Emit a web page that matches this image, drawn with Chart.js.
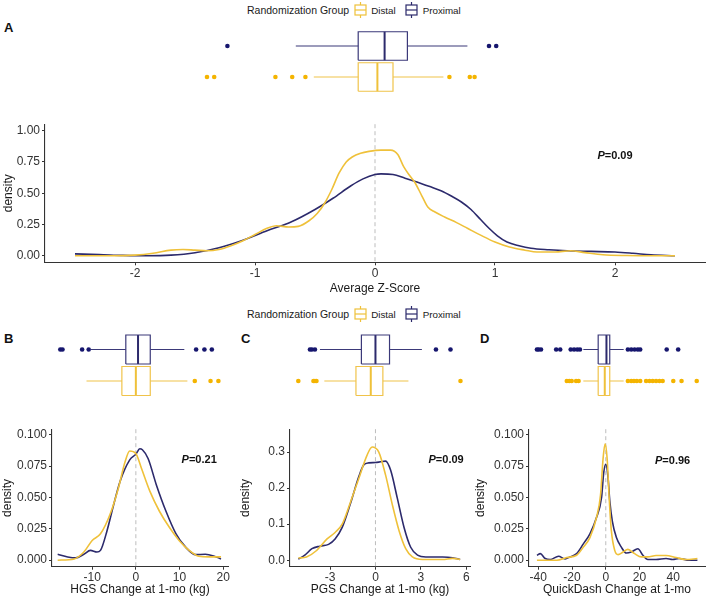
<!DOCTYPE html>
<html><head><meta charset="utf-8">
<script src="https://cdn.jsdelivr.net/npm/chart.js@4.4.1/dist/chart.umd.min.js"></script>
<style>
body{margin:0;background:#fff;width:709px;height:599px;position:relative;overflow:hidden;font-family:"Liberation Sans",Arial,sans-serif;}
canvas{position:absolute;}
.pl{position:absolute;font-weight:bold;font-size:13px;color:#111;line-height:14px;}
.lg{position:absolute;left:247px;height:18px;display:flex;align-items:center;color:#1a1a1a;white-space:nowrap;}
.lg .t{font-size:10.5px;}
.lg .s{font-size:9.8px;}
.lg svg{display:block;}
</style></head>
<body>
<div class="lg" style="top:1px"><span class="t">Randomization Group</span>
<svg width="13" height="16" style="margin-left:5px"><g stroke="#EFC13A" stroke-width="1.2" fill="none"><line x1="6.5" y1="0" x2="6.5" y2="3"/><rect x="1" y="3" width="11" height="10"/><line x1="1" y1="8" x2="12" y2="8"/><line x1="6.5" y1="13" x2="6.5" y2="16"/></g></svg>
<span class="s" style="margin-left:4px">Distal</span>
<svg width="13" height="16" style="margin-left:9px"><g stroke="#2C2A6C" stroke-width="1.2" fill="none"><line x1="6.5" y1="0" x2="6.5" y2="3"/><rect x="1" y="3" width="11" height="10"/><line x1="1" y1="8" x2="12" y2="8"/><line x1="6.5" y1="13" x2="6.5" y2="16"/></g></svg>
<span class="s" style="margin-left:5px">Proximal</span></div>

<div class="lg" style="top:305px"><span class="t">Randomization Group</span>
<svg width="13" height="16" style="margin-left:5px"><g stroke="#EFC13A" stroke-width="1.2" fill="none"><line x1="6.5" y1="0" x2="6.5" y2="3"/><rect x="1" y="3" width="11" height="10"/><line x1="1" y1="8" x2="12" y2="8"/><line x1="6.5" y1="13" x2="6.5" y2="16"/></g></svg>
<span class="s" style="margin-left:4px">Distal</span>
<svg width="13" height="16" style="margin-left:9px"><g stroke="#2C2A6C" stroke-width="1.2" fill="none"><line x1="6.5" y1="0" x2="6.5" y2="3"/><rect x="1" y="3" width="11" height="10"/><line x1="1" y1="8" x2="12" y2="8"/><line x1="6.5" y1="13" x2="6.5" y2="16"/></g></svg>
<span class="s" style="margin-left:5px">Proximal</span></div>

<div class="pl" style="left:4px;top:21px">A</div>
<div class="pl" style="left:4px;top:332px">B</div>
<div class="pl" style="left:241px;top:332px">C</div>
<div class="pl" style="left:480px;top:332px">D</div>

<canvas id="boxA" width="709" height="115" style="left:0;top:0"></canvas>
<canvas id="denA" width="709" height="185" style="left:0;top:115px"></canvas>
<canvas id="boxB" width="235" height="120" style="left:0;top:300px"></canvas>
<canvas id="denB" width="235" height="179" style="left:0;top:420px"></canvas>
<canvas id="boxC" width="240" height="120" style="left:235px;top:300px"></canvas>
<canvas id="denC" width="240" height="179" style="left:235px;top:420px"></canvas>
<canvas id="boxD" width="239" height="120" style="left:470px;top:300px"></canvas>
<canvas id="denD" width="239" height="179" style="left:470px;top:420px"></canvas>

<script>
// ---------- DATA ----------
const groups = ['Distal', 'Proximal'];

// Panel A: Average Z-Score
const A_x_dist = [-2.5,-2.2,-2.0,-1.85,-1.7,-1.6,-1.5,-1.4,-1.3,-1.2,-1.1,-1.0,-0.9,-0.82,-0.72,-0.64,-0.55,-0.48,-0.42,-0.36,-0.3,-0.24,-0.19,-0.12,-0.05,0.05,0.13,0.19,0.24,0.29,0.33,0.39,0.44,0.5,0.58,0.68,0.77,0.88,1.0,1.12,1.25,1.35,1.5,1.63,1.75,1.9,2.1,2.3,2.5];
const A_y_dist = [0,0,0.005,0.02,0.045,0.05,0.045,0.04,0.05,0.08,0.12,0.17,0.22,0.24,0.23,0.235,0.28,0.34,0.42,0.53,0.66,0.75,0.79,0.82,0.835,0.845,0.845,0.81,0.71,0.64,0.59,0.48,0.39,0.35,0.31,0.265,0.22,0.165,0.11,0.07,0.045,0.03,0.03,0.04,0.025,0.008,0.002,0,0];
const A_x_prox = [-2.5,-2.3,-2.1,-1.9,-1.7,-1.5,-1.3,-1.1,-0.9,-0.7,-0.5,-0.35,-0.2,-0.1,0,0.05,0.15,0.25,0.35,0.45,0.55,0.65,0.72,0.8,0.88,0.95,1.02,1.1,1.2,1.3,1.45,1.6,1.8,2.0,2.15,2.3,2.5];
const A_y_prox = [0.015,0.01,0.003,0,0.005,0.025,0.065,0.125,0.2,0.27,0.37,0.46,0.56,0.615,0.65,0.655,0.65,0.62,0.59,0.555,0.52,0.47,0.43,0.37,0.29,0.22,0.16,0.11,0.08,0.06,0.048,0.04,0.035,0.03,0.02,0.008,0];
// box stats: [lower whisker, Q1, median, Q3, upper whisker]
const A_box_dist = [-0.51,-0.14,0.02,0.15,0.57];
const A_out_dist = [-1.40,-1.34,-0.83,-0.69,-0.58,0.62,0.79,0.83];
const A_box_prox = [-0.66,-0.14,0.08,0.27,0.77];
const A_out_prox = [-1.23,0.95,1.01];
const A_xticks = [-2,-1,0,1,2];
const A_xlabels = ['-2','-1','0','1','2'];
const A_yticks = [0,0.25,0.5,0.75,1];
const A_ylabels = ['0.00','0.25','0.50','0.75','1.00'];
const A_title = 'Average Z-Score';
const A_p = '=0.09';

// Panel B: HGS change
const B_x_dist = [-17.9,-14.1,-11.9,-10,-8.1,-5.9,-4.0,-2.5,-1.4,0,1.3,3.2,5.4,7.7,9.9,12.2,14.4,16.7,19.5];
const B_y_dist = [0,0.001,0.0065,0.0157,0.021,0.0366,0.0574,0.078,0.087,0.085,0.073,0.055,0.039,0.026,0.0157,0.0078,0.0031,0.0026,0.0026];
const B_x_prox = [-17.9,-15.6,-13.8,-11.9,-10.4,-8.9,-8.1,-6.6,-5.1,-3.6,-1.4,0,0.9,1.5,2.8,4.7,6.9,9.2,11.4,13.7,15.9,17.8,19.5];
const B_y_prox = [0.0047,0.0026,0.0018,0.0047,0.0078,0.0065,0.0078,0.0235,0.044,0.063,0.080,0.0845,0.0888,0.088,0.081,0.060,0.039,0.021,0.0104,0.0044,0.0047,0.0034,0.001];
const B_box_dist = [-11.3,-3.2,0,3.3,11.8];
const B_out_dist = [13.5,17.1,18.9];
const B_box_prox = [-10.4,-2.3,0.5,3.3,11.1];
const B_out_prox = [-17.3,-16.8,-12.3,-10.8,13.8,15.7,17.4];
const B_xticks = [-10,0,10,20];
const B_xlabels = ['-10','0','10','20'];
const B_yticks = [0,0.025,0.05,0.075,0.1];
const B_ylabels = ['0.000','0.025','0.050','0.075','0.100'];
const B_title = 'HGS Change at 1-mo (kg)';
const B_p = '=0.21';

// Panel C: PGS change
const C_x_dist = [-5.1,-4.56,-3.89,-3.2,-2.67,-2.2,-1.67,-1.1,-0.56,-0.22,0.22,0.67,1.11,1.56,2.0,2.44,3.11,4.44,5.1,5.6];
const C_y_dist = [0.006,0.009,0.027,0.059,0.077,0.1,0.159,0.227,0.291,0.314,0.3,0.236,0.155,0.082,0.032,0.009,0.002,0.002,0.005,0.002];
const C_x_prox = [-5.1,-4.67,-4.2,-3.67,-3.1,-2.67,-2.2,-1.67,-1.1,-0.78,-0.44,0,0.33,0.67,1.0,1.44,1.89,2.33,2.78,3.33,4.44,5.1,5.6];
const C_y_prox = [0.003,0.014,0.032,0.039,0.044,0.059,0.091,0.155,0.232,0.264,0.27,0.271,0.273,0.275,0.25,0.173,0.091,0.036,0.014,0.009,0.009,0.007,0.002];
const C_box_dist = [-3.38,-1.29,-0.31,0.49,2.18];
const C_out_dist = [-5.1,-4.1,-4.0,-3.9,5.62];
const C_box_prox = [-3.67,-0.93,0,0.93,3.07];
const C_out_prox = [-4.33,-4.2,-4.0,4.0,4.96];
const C_xticks = [-3,0,3,6];
const C_xlabels = ['-3','0','3','6'];
const C_yticks = [0,0.1,0.2,0.3];
const C_ylabels = ['0.0','0.1','0.2','0.3'];
const C_title = 'PGS Change at 1-mo (kg)';
const C_p = '=0.09';

// Panel D: QuickDash change
const D_x_dist = [-40.8,-29,-23.1,-17.3,-13.3,-9.4,-5.5,-3.1,-1.6,-0.4,0.8,2.0,3.3,5.3,7.3,10.2,13.1,17.1,21,24.9,29.8,35.7,41.6,47.5,54.3];
const D_y_dist = [0,0,0.0021,0.0039,0.0104,0.018,0.034,0.052,0.081,0.0927,0.081,0.05,0.0235,0.0078,0.0044,0.0065,0.0086,0.0052,0.0026,0.0026,0.0037,0.0037,0.0021,0.0005,0.0013];
const D_x_prox = [-40.8,-38.8,-35.9,-32.9,-28,-24.1,-21.2,-17.3,-13.3,-9.4,-5.5,-2.5,-1.2,0,1.2,2.4,3.9,6.3,9.2,12.2,15.1,19,22,24.9,29.8,35.7,39.6,43.5,49.4,54.3];
const D_y_prox = [0.0039,0.0052,0.0013,0.0005,0.0031,0.001,0.0026,0.0052,0.013,0.021,0.034,0.05,0.07,0.0765,0.068,0.047,0.031,0.018,0.0104,0.0057,0.0065,0.0091,0.0039,0.0005,0.0005,0.0013,0.0005,0.0013,0,0];
const D_box_dist = [-13.3,-4.5,-0.6,2.35,10.6];
const D_out_dist = [-23.1,-21.6,-20.2,-17.6,-16.1,13.1,15.1,16.7,18.4,20.4,23.9,25.9,27.8,29.8,31.8,33.7,40,44.9,53.9];
const D_box_prox = [-13.3,-4.5,0.4,2.35,10.6];
const D_out_prox = [-40.8,-39.8,-38.4,-29.4,-27,-20.8,-18.8,-16.9,-15.3,13.1,15.1,17.1,19,20.4,36.1,42.9];
const D_xticks = [-40,-20,0,20,40];
const D_xlabels = ['-40','-20','0','20','40'];
const D_yticks = [0,0.025,0.05,0.075,0.1];
const D_ylabels = ['0.000','0.025','0.050','0.075','0.100'];
const D_title = 'QuickDash Change at 1-mo';
const D_p = '=0.96';

// ---------- STYLE ----------
const FONT = '"Liberation Sans", Arial, sans-serif';
const COL = {
  Distal:   {line:'#EFC13A', box:'#F0C34A', pt:'#F4B400'},
  Proximal: {line:'#2C2A6C', box:'#3B3979', pt:'#16166E'}
};
const GROUP_Y = {Distal:1, Proximal:2};
const BOX_H = 0.46;

const pts = (xs, ys) => xs.map((x, i) => ({x, y: ys[i]}));

function boxSets(stats, outliers, g) {
  const [lo, q1, med, q3, hi] = stats;
  const y = GROUP_Y[g], c = COL[g];
  const base = {type:'scatter', showLine:true, pointRadius:0, borderColor:c.box, borderWidth:1.2, fill:false, tension:0};
  return [
    {...base, data:[{x:q1,y:y-BOX_H},{x:q3,y:y-BOX_H},{x:q3,y:y+BOX_H},{x:q1,y:y+BOX_H},{x:q1,y:y-BOX_H}]},
    {...base, borderWidth:2, borderColor:c.line, data:[{x:med,y:y-BOX_H},{x:med,y:y+BOX_H}]},
    {...base, data:[{x:lo,y},{x:q1,y}]},
    {...base, data:[{x:q3,y},{x:hi,y}]},
    {type:'scatter', showLine:false, pointRadius:2.3, pointBackgroundColor:c.pt, pointBorderWidth:0, data: outliers.map(v => ({x:v, y}))}
  ];
}

function boxChart(id, xr, padL, padR, padT, padB, dist, distOut, prox, proxOut) {
  new Chart(document.getElementById(id), {
    type:'scatter',
    data:{datasets:[...boxSets(dist, distOut, 'Distal'), ...boxSets(prox, proxOut, 'Proximal')]},
    options:{
      responsive:false, animation:false,
      layout:{padding:{left:padL, right:padR, top:padT, bottom:padB}},
      plugins:{legend:{display:false}, tooltip:{enabled:false}},
      scales:{x:{display:false, min:xr[0], max:xr[1]}, y:{display:false, min:0, max:3}}
    }
  });
}

const annot = {
  id:'annot',
  beforeDatasetsDraw(chart) {
    const o = chart.options.plugins.annot; if (!o) return;
    const {ctx, chartArea:a, scales:{x}} = chart;
    const px = x.getPixelForValue(o.vline);
    ctx.save();
    ctx.strokeStyle = '#BDBDBD'; ctx.lineWidth = 1; ctx.setLineDash([4,3]);
    ctx.beginPath(); ctx.moveTo(px, a.top); ctx.lineTo(px, a.bottom); ctx.stroke();
    ctx.restore();
  },
  afterDatasetsDraw(chart) {
    const o = chart.options.plugins.annot; if (!o) return;
    const {ctx, scales:{x, y}} = chart;
    const cx = x.getPixelForValue(o.px), cy = y.getPixelForValue(o.py);
    ctx.save();
    ctx.fillStyle = '#111'; ctx.textBaseline = 'middle';
    ctx.font = 'italic bold 11px ' + FONT;
    const w1 = ctx.measureText('P').width;
    ctx.font = 'bold 11px ' + FONT;
    const w2 = ctx.measureText(o.text).width;
    const x0 = cx - (w1 + w2) / 2;
    ctx.font = 'italic bold 11px ' + FONT;
    ctx.fillText('P', x0, cy);
    ctx.font = 'bold 11px ' + FONT;
    ctx.fillText(o.text, x0 + w1, cy);
    ctx.restore();
  }
};

function densChart(id, cfg) {
  const tickFont = {family:FONT, size:12};
  new Chart(document.getElementById(id), {
    type:'scatter',
    data:{datasets:[
      {label:groups[0], data:pts(cfg.xd, cfg.yd), showLine:true, pointRadius:0, borderColor:COL.Distal.line, borderWidth:1.6, cubicInterpolationMode:'monotone', tension:0.4},
      {label:groups[1], data:pts(cfg.xp, cfg.yp), showLine:true, pointRadius:0, borderColor:COL.Proximal.line, borderWidth:1.6, cubicInterpolationMode:'monotone', tension:0.4}
    ]},
    options:{
      responsive:false, animation:false,
      layout:{padding:{left:0, right:cfg.padR, top:cfg.padT, bottom:0}},
      plugins:{legend:{display:false}, tooltip:{enabled:false}, annot:{vline:0, px:cfg.pPos[0], py:cfg.pPos[1], text:cfg.p}},
      scales:{
        x:{type:'linear', min:cfg.xr[0], max:cfg.xr[1],
           border:{display:true, color:'#333', width:1.1},
           grid:{display:true, drawOnChartArea:false, drawTicks:true, tickLength:3, tickColor:'#333'},
           ticks:{font:tickFont, color:'#333', padding:1, maxRotation:0, autoSkip:false,
                  callback:(v) => { const i = cfg.xt.indexOf(v); return i >= 0 ? cfg.xl[i] : ''; }},
           afterBuildTicks:(s) => { s.ticks = cfg.xt.map(v => ({value:v})); },
           afterFit:(s) => { s.height = cfg.xh; },
           title:{display:true, text:cfg.title, color:'#1a1a1a', font:{family:FONT, size:12}, padding:{top:0, bottom:cfg.tPad}}
        },
        y:{type:'linear', min:cfg.yr[0], max:cfg.yr[1],
           border:{display:true, color:'#333', width:1.1},
           grid:{display:true, drawOnChartArea:false, drawTicks:true, tickLength:3, tickColor:'#333'},
           ticks:{font:tickFont, color:'#333', padding:2, autoSkip:false,
                  callback:(v) => { const i = cfg.yt.indexOf(v); return i >= 0 ? cfg.yl[i] : ''; }},
           afterBuildTicks:(s) => { s.ticks = cfg.yt.map(v => ({value:v})); },
           afterFit:(s) => { s.width = cfg.yw; },
           title:{display:true, text:'density', color:'#1a1a1a', font:{family:FONT, size:12}, padding:{top:cfg.yTPad, bottom:0}}
        }
      }
    },
    plugins:[annot]
  });
}

// ---------- PANEL A ----------
const A_xr = [-2.75, 2.75];
boxChart('boxA', A_xr, 45, 4, 15, 7, A_box_dist, A_out_dist, A_box_prox, A_out_prox);
densChart('denA', {xd:A_x_dist, yd:A_y_dist, xp:A_x_prox, yp:A_y_prox, xr:A_xr, yr:[-0.052,1.052],
  xt:A_xticks, xl:A_xlabels, yt:A_yticks, yl:A_ylabels, title:A_title, p:A_p, pPos:[2.0,0.8],
  padR:4, padT:7, xh:37.7, yw:45, tPad:4, yTPad:1});

// ---------- PANEL B ----------
const B_xr = [-19.2, 21.1];
boxChart('boxB', B_xr, 52, 7, 18, 7.5, B_box_dist, B_out_dist, B_box_prox, B_out_prox);
densChart('denB', {xd:B_x_dist, yd:B_y_dist, xp:B_x_prox, yp:B_y_prox, xr:B_xr, yr:[-0.0052,0.1044],
  xt:B_xticks, xl:B_xlabels, yt:B_yticks, yl:B_ylabels, title:B_title, p:B_p, pPos:[14.5,0.08],
  padR:7, padT:7, xh:32.3, yw:52, tPad:2, yTPad:0});

// ---------- PANEL C ----------
const C_xr = [-5.65, 6.25];
boxChart('boxC', C_xr, 55, 5, 18, 7.5, C_box_dist, C_out_dist, C_box_prox, C_out_prox);
densChart('denC', {xd:C_x_dist, yd:C_y_dist, xp:C_x_prox, yp:C_y_prox, xr:C_xr, yr:[-0.018,0.3635],
  xt:C_xticks, xl:C_xlabels, yt:C_yticks, yl:C_ylabels, title:C_title, p:C_p, pPos:[4.67,0.277],
  padR:5, padT:7, xh:32.3, yw:55, tPad:2, yTPad:3});

// ---------- PANEL D ----------
const D_xr = [-45.5, 58.8];
boxChart('boxD', D_xr, 59, 4, 18, 7.5, D_box_dist, D_out_dist, D_box_prox, D_out_prox);
densChart('denD', {xd:D_x_dist, yd:D_y_dist, xp:D_x_prox, yp:D_y_prox, xr:D_xr, yr:[-0.0052,0.1044],
  xt:D_xticks, xl:D_xlabels, yt:D_yticks, yl:D_ylabels, title:D_title, p:D_p, pPos:[39.6,0.079],
  padR:4, padT:7, xh:32.3, yw:59, tPad:2, yTPad:3});
</script>
</body></html>
